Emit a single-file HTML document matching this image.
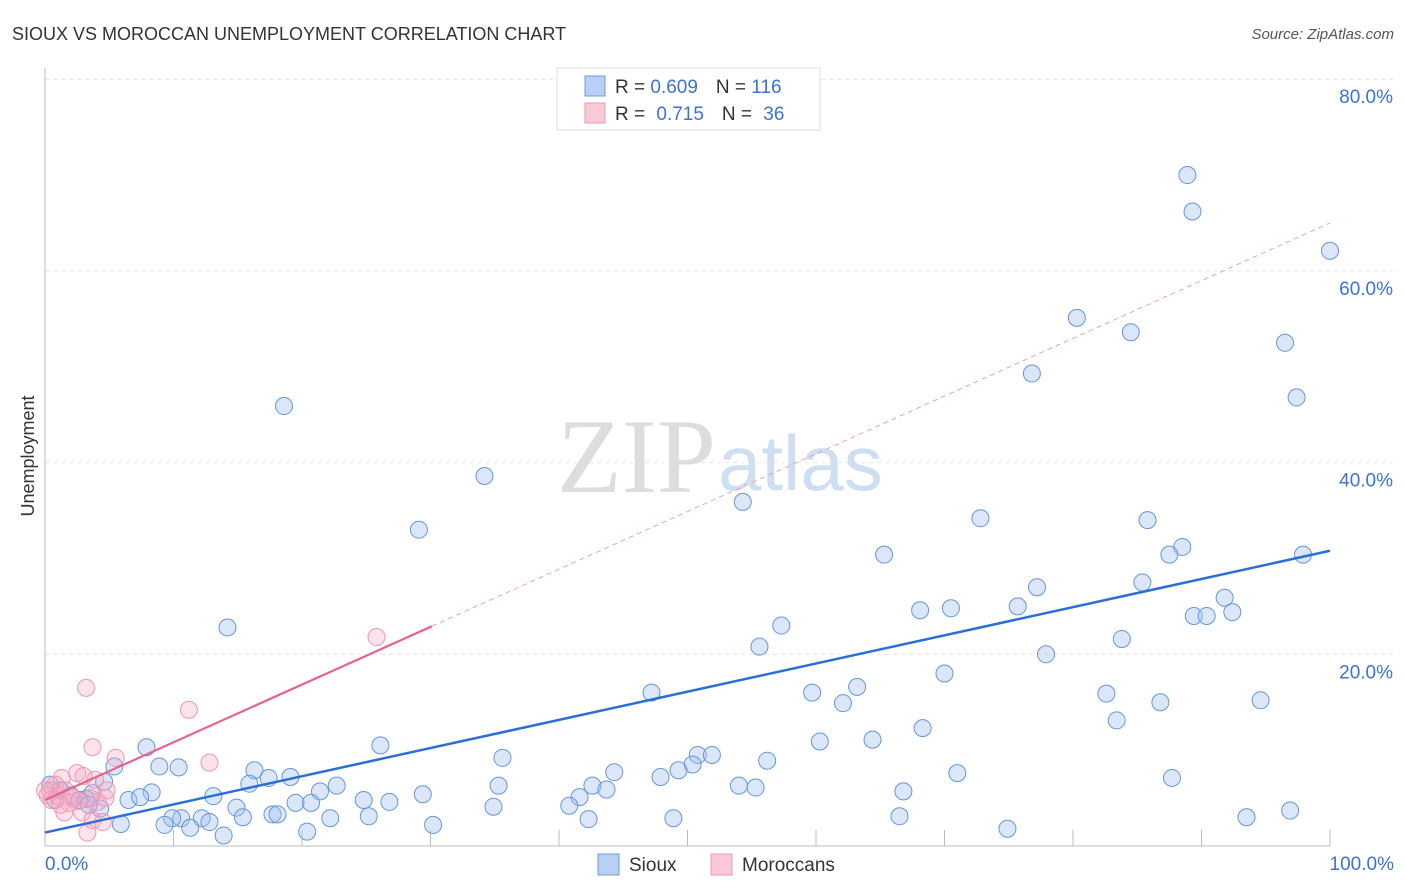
<!DOCTYPE html>
<html><head><meta charset="utf-8"><style>
body{margin:0;background:#fff;font-family:"Liberation Sans",sans-serif;}
#wrap{position:relative;width:1406px;height:892px;overflow:hidden;}
</style></head><body>
<div id="wrap">
<svg id="svg" width="1406" height="892" xmlns="http://www.w3.org/2000/svg">
<text x="12" y="40" font-size="18" fill="#333">SIOUX VS MOROCCAN UNEMPLOYMENT CORRELATION CHART</text>
<text x="1394" y="39" font-size="15" fill="#555" font-style="italic" text-anchor="end">Source: ZipAtlas.com</text>
<text x="34" y="456" font-size="18" fill="#333" text-anchor="middle" transform="rotate(-90 34 456)">Unemployment</text>
<g id="grid"></g>
<text x="716" y="492" font-size="106" font-family="Liberation Serif" fill="#ddd" text-anchor="end">ZIP</text>
<text x="718" y="490" font-size="78" fill="#cfdff2">atlas</text>
<g id="axes"></g>
<g id="pts"></g>
<g id="trend"></g>
<g>
<rect x="557" y="68" width="263" height="62" fill="#fff" stroke="#ddd"/>
<rect x="585" y="76" width="20" height="20" fill="#b8d0f4" stroke="#6a9be0"/>
<rect x="585" y="103" width="20" height="20" fill="#f9c9d8" stroke="#e99ab4"/>
<text x="615" y="93" font-size="19" fill="#333">R = <tspan fill="#3a74d0">0.609</tspan><tspan dx="18">N = </tspan><tspan fill="#3a74d0">116</tspan></text>
<text x="615" y="120" font-size="19" fill="#333">R = <tspan fill="#3a74d0" dx="6">0.715</tspan><tspan dx="18">N = </tspan><tspan fill="#3a74d0" dx="6">36</tspan></text>
</g>
<g>
<rect x="598" y="854" width="21" height="21" fill="#b8d0f4" stroke="#6a9be0"/>
<text x="629" y="871" font-size="19" fill="#333">Sioux</text>
<rect x="711" y="854" width="21" height="21" fill="#f9c9d8" stroke="#e99ab4"/>
<text x="742" y="871" font-size="19" fill="#333">Moroccans</text>
</g>
</svg>
</div>
<script>
const siouxX=[88.9,89.3,100,80.3,84.5,76.8,96.5,97.4,18.6,34.2,54.3,29.1,72.8,85.8,88.5,87.5,65.3,97.9,85.4,77.2,91.8,75.7,68.1,70.5,89.4,90.4,92.4,14.2,57.3,83.8,55.6,77.9,70.0,63.2,47.2,59.7,82.6,62.1,86.8,94.6,83.4,68.3,64.4,60.3,26.1,7.9,35.6,50.8,51.9,50.4,56.2,49.3,5.4,8.9,10.4,16.3,44.3,47.9,71.0,87.7,17.4,19.1,4.6,15.9,22.7,35.3,42.6,43.7,54.0,55.3,8.3,3.7,21.4,66.8,13.1,6.5,7.4,3.2,29.4,24.8,26.8,41.6,19.5,20.7,14.9,34.9,40.8,4.3,17.7,18.1,15.4,25.2,12.2,10.6,9.9,12.8,22.2,42.3,48.9,66.5,93.5,96.9,5.9,9.3,11.3,30.2,20.4,13.9,74.9,0.4,0.8,1.2,2.0,2.7,3.4];
const siouxY=[70.0,66.2,62.1,55.1,53.6,49.3,52.5,46.8,45.9,38.6,35.9,33.0,34.2,34.0,31.2,30.4,30.4,30.4,27.5,27.0,25.9,25.0,24.6,24.8,24.0,24.0,24.4,22.8,23.0,21.6,20.8,20.0,18.0,16.6,16.0,16.0,15.9,14.9,15.0,15.2,13.1,12.3,11.1,10.9,10.5,10.3,9.2,9.5,9.5,8.5,8.9,7.9,8.3,8.3,8.2,7.9,7.7,7.2,7.6,7.1,7.1,7.2,6.7,6.5,6.3,6.3,6.3,5.9,6.3,6.1,5.6,5.5,5.7,5.7,5.2,4.8,5.1,4.9,5.4,4.8,4.6,5.1,4.5,4.5,4.0,4.1,4.2,3.9,3.3,3.3,3.0,3.1,2.9,2.9,2.9,2.5,2.9,2.8,2.9,3.1,3.0,3.7,2.3,2.2,1.9,2.2,1.5,1.1,1.8,6.4,4.8,5.8,5.3,4.8,4.3];
const morX=[3.2,11.2,25.8,12.8,3.7,5.5,2.5,3.0,3.9,1.3,0.8,0.4,0.2,0.5,1.0,1.6,2.1,2.6,4.1,4.7,4.8,1.5,2.9,3.7,4.5,3.3,1.9,0,1.2,3.5];
const morY=[16.5,14.2,21.8,8.7,10.3,9.2,7.6,7.3,6.9,7.1,6.4,5.8,5.3,4.8,5.2,5.8,5.1,4.7,4.6,5.0,5.8,3.5,3.5,2.7,2.5,1.4,4.5,5.8,4.3,5.0];
const yTicks=[20,40,60,80];
const yTickLabels=["20.0%","40.0%","60.0%","80.0%"];
const xTicks=[0,10,20,30,40,50,60,70,80,90,100];
const xEndLabels=["0.0%","100.0%"];
const siouxTrend=[1.4,30.8];
const morTrend=[4.8,65.0];
const morSolidEnd=30.1;

const NS="http://www.w3.org/2000/svg";
const X=v=>45+v*12.85;
const Y=v=>846-v*9.585;
function mk(tag,attrs,parent){const e=document.createElementNS(NS,tag);for(const k in attrs)e.setAttribute(k,attrs[k]);parent.appendChild(e);return e;}
const grid=document.getElementById('grid'),axes=document.getElementById('axes'),pts=document.getElementById('pts'),trend=document.getElementById('trend');
yTicks.forEach((t,i)=>{
 const l=mk('line',{x1:45,x2:1394,y1:Y(t),y2:Y(t),stroke:'#e2e2e2','stroke-dasharray':'4,4'},grid);
 
 
 const tx=mk('text',{x:1393,y:Y(t)+24,'font-size':19,fill:'#3a74d0','text-anchor':'end'},axes);
 tx.textContent=yTickLabels[i];
 
 
});
const al=mk('line',{x1:45,x2:45,y1:68,y2:846,stroke:'#bbb'},axes);


const bl=mk('line',{x1:45,x2:1330,y1:846,y2:846,stroke:'#bbb'},axes);


xTicks.forEach(t=>{
 const l=mk('line',{x1:X(t),x2:X(t),y1:830,y2:846,stroke:'#bbb'},axes);
 
 
});
[[0,'start',45],[100,'end',1394]].forEach((d,i)=>{
 const tx=mk('text',{x:d[2],y:870,'font-size':19,fill:'#3a74d0','text-anchor':d[1]},axes);
 tx.textContent=xEndLabels[i];
 
 
});
siouxX.forEach((x,i)=>{
 const c=mk('circle',{cx:X(x),cy:Y(siouxY[i]),r:8.5,fill:'rgba(160,192,240,0.38)',stroke:'#6496dc','stroke-width':1},pts);
 
 
});
morX.forEach((x,i)=>{
 const c=mk('circle',{cx:X(x),cy:Y(morY[i]),r:8.5,fill:'rgba(246,172,196,0.35)',stroke:'#eb98b3','stroke-width':1},pts);
 
 
});
const ts=mk('line',{x1:X(0),y1:Y(siouxTrend[0]),x2:X(100),y2:Y(siouxTrend[1]),stroke:'#2a6fd6','stroke-width':2.5},trend);


const mAt=v=>morTrend[0]+(morTrend[1]-morTrend[0])*v/100;
const tm=mk('line',{x1:X(0),y1:Y(mAt(0)),x2:X(morSolidEnd),y2:Y(mAt(morSolidEnd)),stroke:'#e8628e','stroke-width':2.2},trend);


const td=mk('line',{x1:X(morSolidEnd),y1:Y(mAt(morSolidEnd)),x2:X(100),y2:Y(mAt(100)),stroke:'#eaa0b8','stroke-width':1,'stroke-dasharray':'5,4'},trend);


</script>
</body></html>
